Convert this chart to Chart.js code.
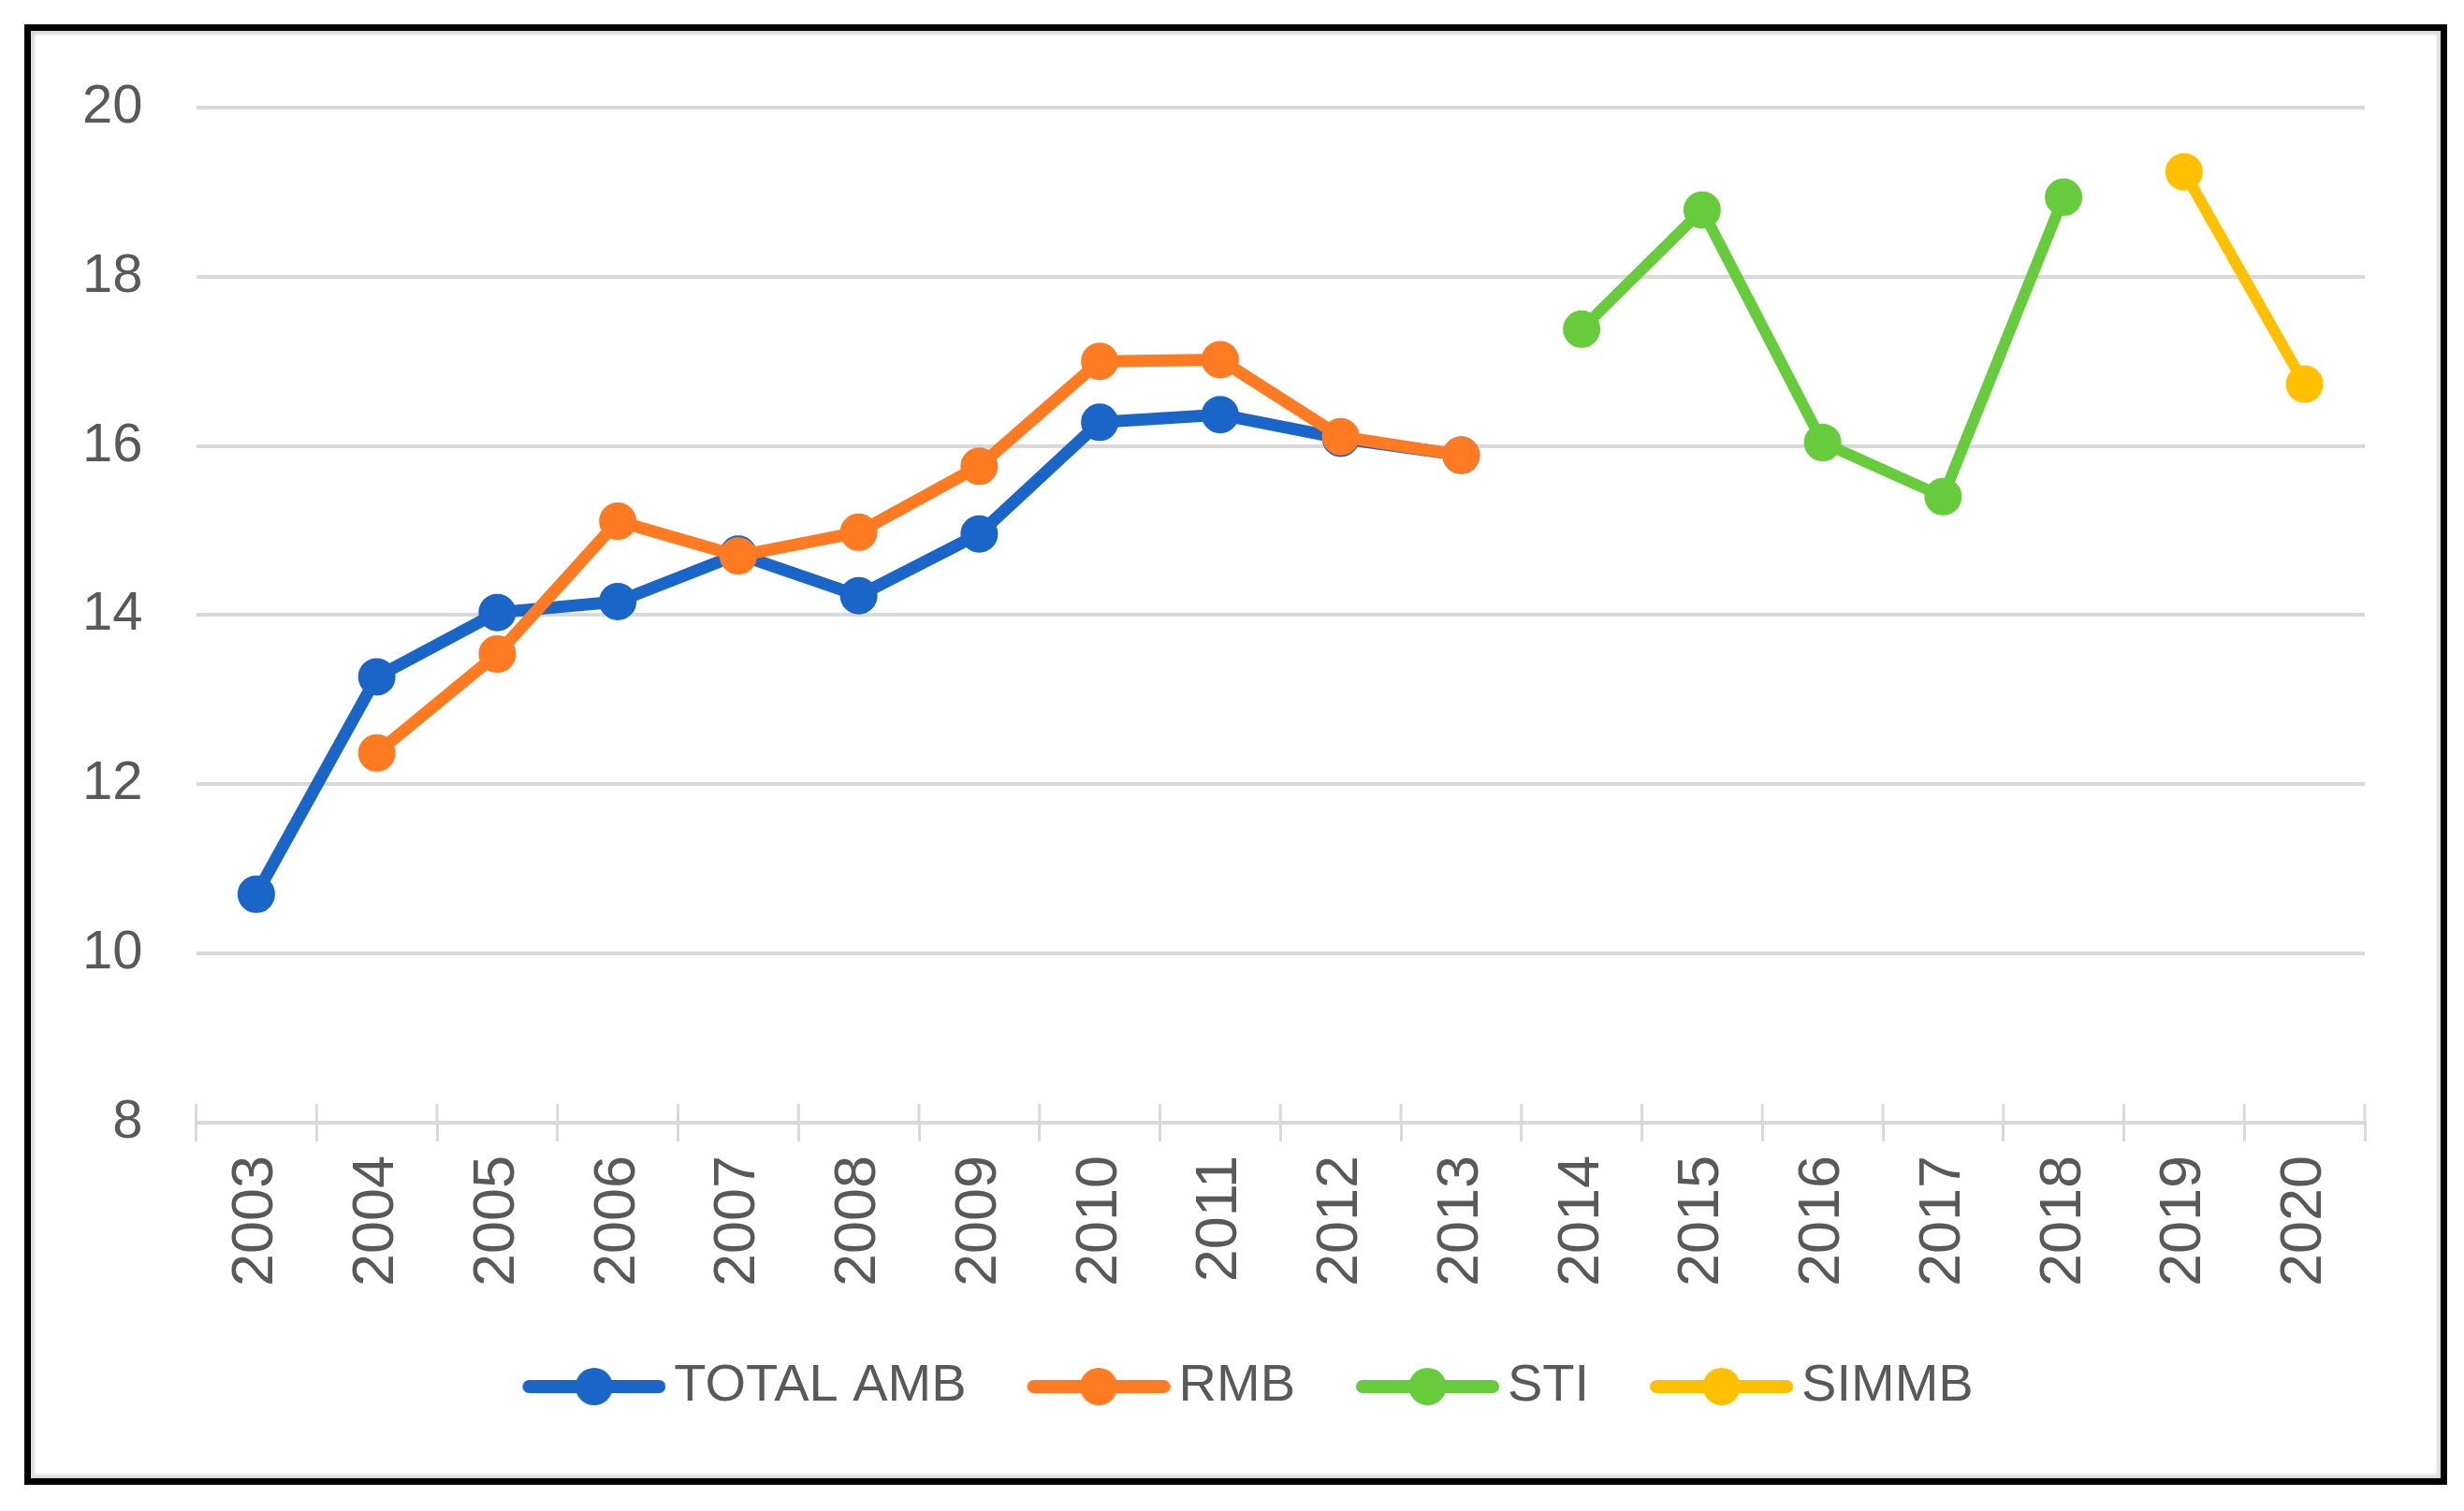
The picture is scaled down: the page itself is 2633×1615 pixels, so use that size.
<!DOCTYPE html>
<html>
<head>
<meta charset="utf-8">
<script src="https://cdn.jsdelivr.net/npm/chart.js@4.4.1/dist/chart.umd.min.js"></script>
<style>
    body { margin: 0; background: #fff; }
    #frame {
        position: absolute; left: 26px; top: 26px; width: 2589px; height: 1561px;
        box-sizing: border-box; border: 7px solid #000;
        box-shadow: inset 0 0 3px 4px #dcdcdc;
    }
    #chart { position: absolute; left: 0; top: 0; }
</style>
</head>
<body>
<div id="frame"></div>
<canvas id="chart" width="2633" height="1615"></canvas>
<script>
// values
const years = ['2003', '2004', '2005', '2006', '2007', '2008', '2009', '2010', '2011',
               '2012', '2013', '2014', '2015', '2016', '2017', '2018', '2019', '2020'];
const totalAmb = [10.70, 13.27, 14.03, 14.16, 14.72, 14.23, 14.96, 16.28, 16.37, 16.09, 15.89,
                  null, null, null, null, null, null, null];
const rmb = [null, 12.37, 13.54, 15.11, 14.70, 14.98, 15.76, 17.00, 17.02, 16.11, 15.89,
             null, null, null, null, null, null, null];
const sti = [null, null, null, null, null, null, null, null, null, null, null,
             17.38, 18.79, 16.04, 15.40, 18.94, null, null];
const simmb = [null, null, null, null, null, null, null, null, null, null, null,
               null, null, null, null, null, 19.24, 16.73];

const seriesNames = ['TOTAL AMB', 'RMB', 'STI', 'SIMMB'];
const seriesColors = ['#1a66c8', '#ff7b22', '#66cc3c', '#ffc000'];

const gridColor = '#d9d9d9';
const textColor = '#595959';
const family = "'Liberation Sans', Arial, sans-serif";

// legend marker: thick line with a dot in the middle (drawn right of the canvas centre)
function legendIcon(color) {
    const c = document.createElement('canvas');
    c.width = 173; c.height = 44;
    const g = c.getContext('2d');
    g.strokeStyle = color;
    g.lineWidth = 14;
    g.lineCap = 'round';
    g.beginPath(); g.moveTo(27, 22); g.lineTo(166, 22); g.stroke();
    g.fillStyle = color;
    g.beginPath(); g.arc(96.5, 22, 20, 0, Math.PI * 2); g.fill();
    return c;
}

function makeSet(i, data, width) {
    return {
        label: seriesNames[i],
        data: data,
        borderColor: seriesColors[i],
        backgroundColor: seriesColors[i],
        pointBackgroundColor: seriesColors[i],
        pointBorderColor: seriesColors[i],
        borderWidth: width,
        pointStyle: 'circle',
        pointRadius: 17,
        pointBorderWidth: 6,
        borderJoinStyle: 'round',
        borderCapStyle: 'round',
        legendIcon: legendIcon(seriesColors[i]),
        spanGaps: false,
        order: 4 - i
    };
}

// cross tick marks above the category axis (Excel style)
const crossTicks = {
    id: 'crossTicks',
    afterLayout(chart) {
        // legend sits a little right of centre in the original
        chart.legend.left += 54;
        chart.legend.right += 54;
    },
    beforeDatasetsDraw(chart) {
        const x = chart.scales.x;
        const n = years.length;
        const ctx = chart.ctx;
        ctx.save();
        ctx.strokeStyle = gridColor;
        ctx.lineWidth = 3;
        for (let i = 0; i <= n; i++) {
            const px = x.left + i * x.width / n;
            ctx.beginPath();
            ctx.moveTo(px, x.top - 20);
            ctx.lineTo(px, x.top);
            ctx.stroke();
        }
        ctx.restore();
    }
};

const ds = [makeSet(0, totalAmb, 13), makeSet(1, rmb, 13), makeSet(2, sti, 12), makeSet(3, simmb, 12)];

new Chart(document.getElementById('chart'), {
    type: 'line',
    data: { labels: years, datasets: ds },
    plugins: [crossTicks],
    options: {
        responsive: false,
        devicePixelRatio: 1,
        animation: false,
        layout: { padding: { left: 31, top: 115, right: 106, bottom: 95 } },
        scales: {
            x: {
                offset: true,
                grid: { offset: true, drawOnChartArea: false, color: gridColor, lineWidth: 3, tickLength: 20 },
                border: { display: true, color: gridColor, width: 4 },
                ticks: { color: textColor, font: { family: family, size: 63 }, minRotation: 90, maxRotation: 90, padding: 15, autoSkip: false }
            },
            y: {
                min: 8, max: 20,
                grid: { color: gridColor, lineWidth: 4, drawTicks: false },
                border: { display: false },
                ticks: { stepSize: 2, color: textColor, font: { family: family, size: 58 }, padding: 57 }
            }
        },
        plugins: {
            tooltip: { enabled: false },
            legend: {
                position: 'bottom',
                labels: {
                    color: textColor,
                    font: { family: family, size: 56 },
                    usePointStyle: true,
                    pointStyleWidth: 135,
                    padding: 64,
                    generateLabels(chart) {
                        return chart.data.datasets.map((d, i) => ({
                            text: d.label,
                            fillStyle: d.borderColor,
                            strokeStyle: d.borderColor,
                            fontColor: textColor,
                            lineWidth: 0,
                            pointStyle: d.legendIcon,
                            hidden: false,
                            datasetIndex: i
                        }));
                    }
                }
            }
        }
    }
});
</script>
</body>
</html>
